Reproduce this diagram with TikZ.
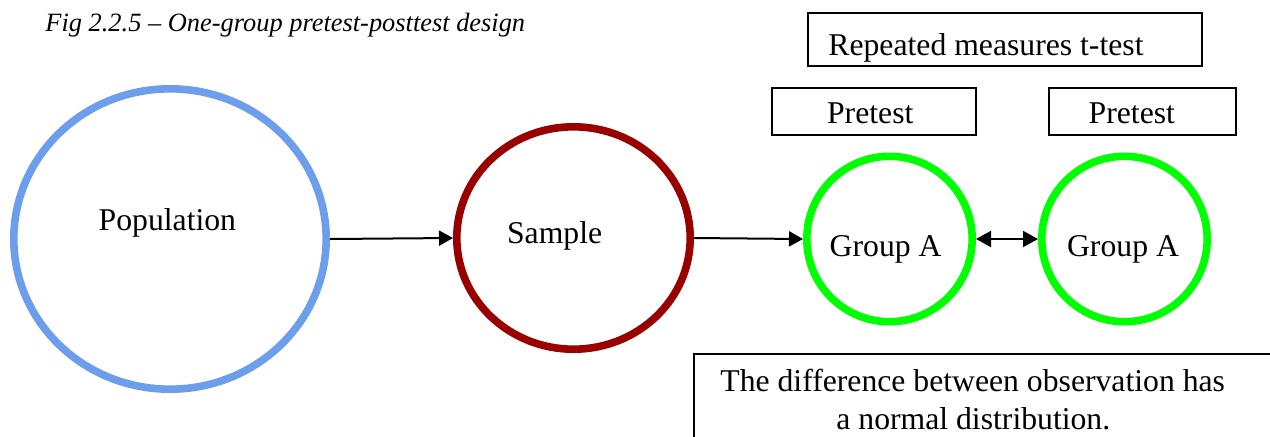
\documentclass[tikz,border=0pt]{standalone}
\usepackage{fontspec}
\setmainfont{Liberation Serif}
\usetikzlibrary{shapes.geometric,arrows.meta}

\definecolor{popblue}{RGB}{109,158,235}
\definecolor{samplered}{RGB}{153,0,0}
\definecolor{groupgreen}{RGB}{0,255,0}

\tikzset{
  ring/.style={ellipse, draw, line width=3.8pt, inner sep=0pt, fill=white},
  framebox/.style={rectangle, draw, line width=1pt, inner sep=0pt},
  lbl/.style={anchor=base west, inner sep=0pt, font=\fontsize{15.85}{18.5}\selectfont},
  flow/.style={line width=1pt, -{Triangle[length=7pt,width=7.5pt]}},
  both/.style={line width=1pt, {Triangle[length=7.5pt,width=8pt]}-{Triangle[length=7.5pt,width=8pt]}}
}

\begin{document}
\begin{tikzpicture}[x=0.5pt,y=-0.5pt]
\useasboundingbox (0,0) rectangle (1270,436);

% caption
\node[anchor=base west, inner sep=0pt, font=\fontsize{13.2}{16}\selectfont\itshape]
  (caption) at (45,31.7) {Fig 2.2.5 -- One-group pretest-posttest design};

% circles
\node[ring, draw=popblue, minimum width=156.2pt, minimum height=150.2pt] (pop) at (170,239) {};
\node[ring, draw=samplered, minimum width=116.7pt, minimum height=111.2pt] (sample) at (573.5,238) {};
\node[ring, draw=groupgreen, minimum width=82.7pt, minimum height=82.7pt] (gA) at (889.5,239) {};
\node[ring, draw=groupgreen, minimum width=82.7pt, minimum height=82.7pt] (gB) at (1124.5,239) {};

% circle labels
\node[lbl] (popText) at (98.3,230) {Population};
\node[lbl] (sampleText) at (506.7,243.3) {Sample};
\node[lbl] (gAText) at (829.3,256) {Group A};
\node[lbl] (gBText) at (1066.7,256) {Group A};

% boxes above the groups
\node[framebox, minimum width=197pt, minimum height=26.2pt] (testBox) at (1004.7,39.5) {};
\node[lbl] (testText) at (828,55) {Repeated measures t-test};
\node[framebox, minimum width=101.85pt, minimum height=23.65pt] (preA) at (873.85,111.35) {};
\node[lbl] (preAText) at (826.7,123.3) {Pretest};
\node[framebox, minimum width=93.35pt, minimum height=23.65pt] (preB) at (1142.35,111.35) {};
\node[lbl] (preBText) at (1088.3,123.3) {Pretest};

% note box at the bottom
\node[framebox, anchor=north west, minimum width=300pt, minimum height=60pt] (note) at (693.3,353.3) {};
\node[lbl] (noteA) at (720,391.7) {The difference between observation has};
\node[lbl] (noteB) at (836,429) {a normal distribution.};

% connectors
\draw[flow] (pop.east) -- (sample.west);
\draw[flow] (sample.east) -- (gA.west);
\draw[both] (gA.east) -- (gB.west);
\end{tikzpicture}
\end{document}
